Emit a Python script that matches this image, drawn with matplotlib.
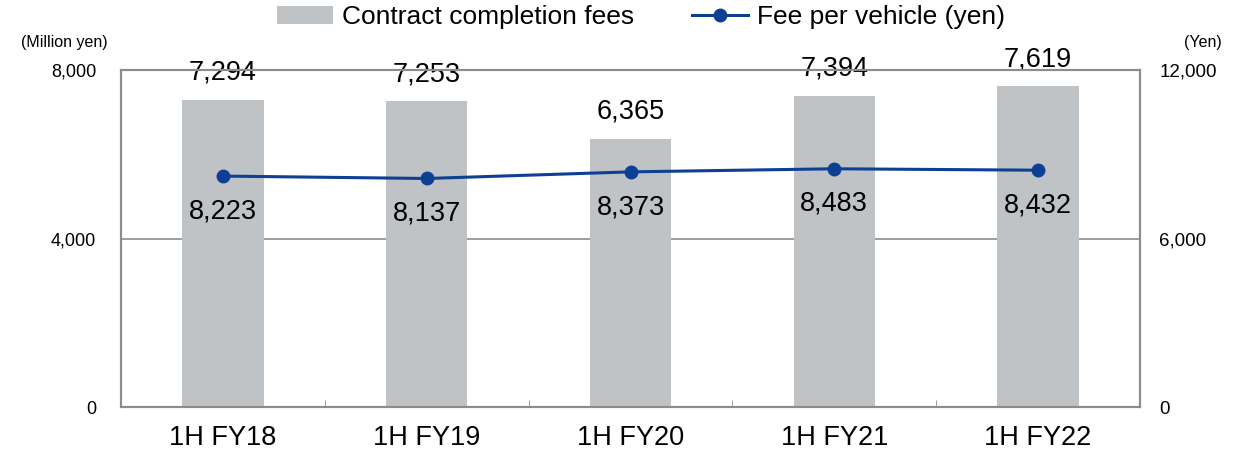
import matplotlib
matplotlib.use("Agg")
import matplotlib.pyplot as plt
import numpy as np

categories = ["1H FY18", "1H FY19", "1H FY20", "1H FY21", "1H FY22"]
fees = [7294, 7253, 6365, 7394, 7619]
per_vehicle = [8223, 8137, 8373, 8483, 8432]

plt.rcParams['font.family'] = ['Liberation Sans', 'DejaVu Sans']

fig = plt.figure(figsize=(12.5, 4.51), dpi=100)
ax = fig.add_axes([121/1250, 44/451, 1019/1250, 337/451])
ax2 = ax.twinx()

x = np.arange(len(categories))
bar_color = "#BFC3C6"
line_color = "#0D3F94"
spine_color = "#8C8C8C"

bars = ax.bar(x, fees, width=0.40, color=bar_color, zorder=2, label="Contract completion fees")
ax.set_xlim(-0.5, len(categories) - 0.5)
ax.set_ylim(0, 8000)
ax.set_yticks([0, 4000, 8000])
ax.set_yticklabels(["0", "4,000", "8,000"], fontsize=13)
ax.tick_params(axis='y', length=0, pad=18)
ax.set_xticks(x)
ax.set_xticklabels(categories, fontsize=19.5)
ax.tick_params(axis='x', length=0, pad=13)
ax.set_xticks(np.arange(len(categories) + 1) - 0.5, minor=True)
ax.tick_params(axis='x', which='minor', direction='in', length=5, color=spine_color)
ax.axhline(4000, color=spine_color, lw=1.2, zorder=1)
for s in ax.spines.values():
    s.set_color(spine_color)
    s.set_linewidth(1.5)

for xi, v in zip(x, fees):
    ax.annotate(f"{v:,}", (xi, v), xytext=(0, 10), textcoords="offset points",
                ha="center", va="bottom", fontsize=19.5)

line, = ax2.plot(x, per_vehicle, color=line_color, lw=2.2, marker="o", markersize=9,
                 zorder=3, label="Fee per vehicle (yen)")
ax2.set_ylim(0, 12000)
ax2.set_yticks([0, 6000, 12000])
ax2.set_yticklabels(["0", "6,000", "12,000"], fontsize=13.5)
ax2.tick_params(axis='y', length=0, pad=14)
for s in ax2.spines.values():
    s.set_color(spine_color)
    s.set_linewidth(1.5)

for xi, v in zip(x, per_vehicle):
    ax2.annotate(f"{v:,}", (xi, v), xytext=(0, -16), textcoords="offset points",
                 ha="center", va="top", fontsize=19.5)

fig.text(64/1250, 1 - 42/451, "(Million yen)", ha="center", va="center", fontsize=11.5)
fig.text(1203/1250, 1 - 42/451, "(Yen)", ha="center", va="center", fontsize=11.5)

fig.legend(handles=[bars, line], labels=["Contract completion fees", "Fee per vehicle (yen)"],
           loc="center", bbox_to_anchor=(641/1250, 1 - 17/451), ncol=2, frameon=False,
           fontsize=19, handlelength=2.1, columnspacing=2.2, handletextpad=0.35)

fig.savefig("out.png", dpi=100)
